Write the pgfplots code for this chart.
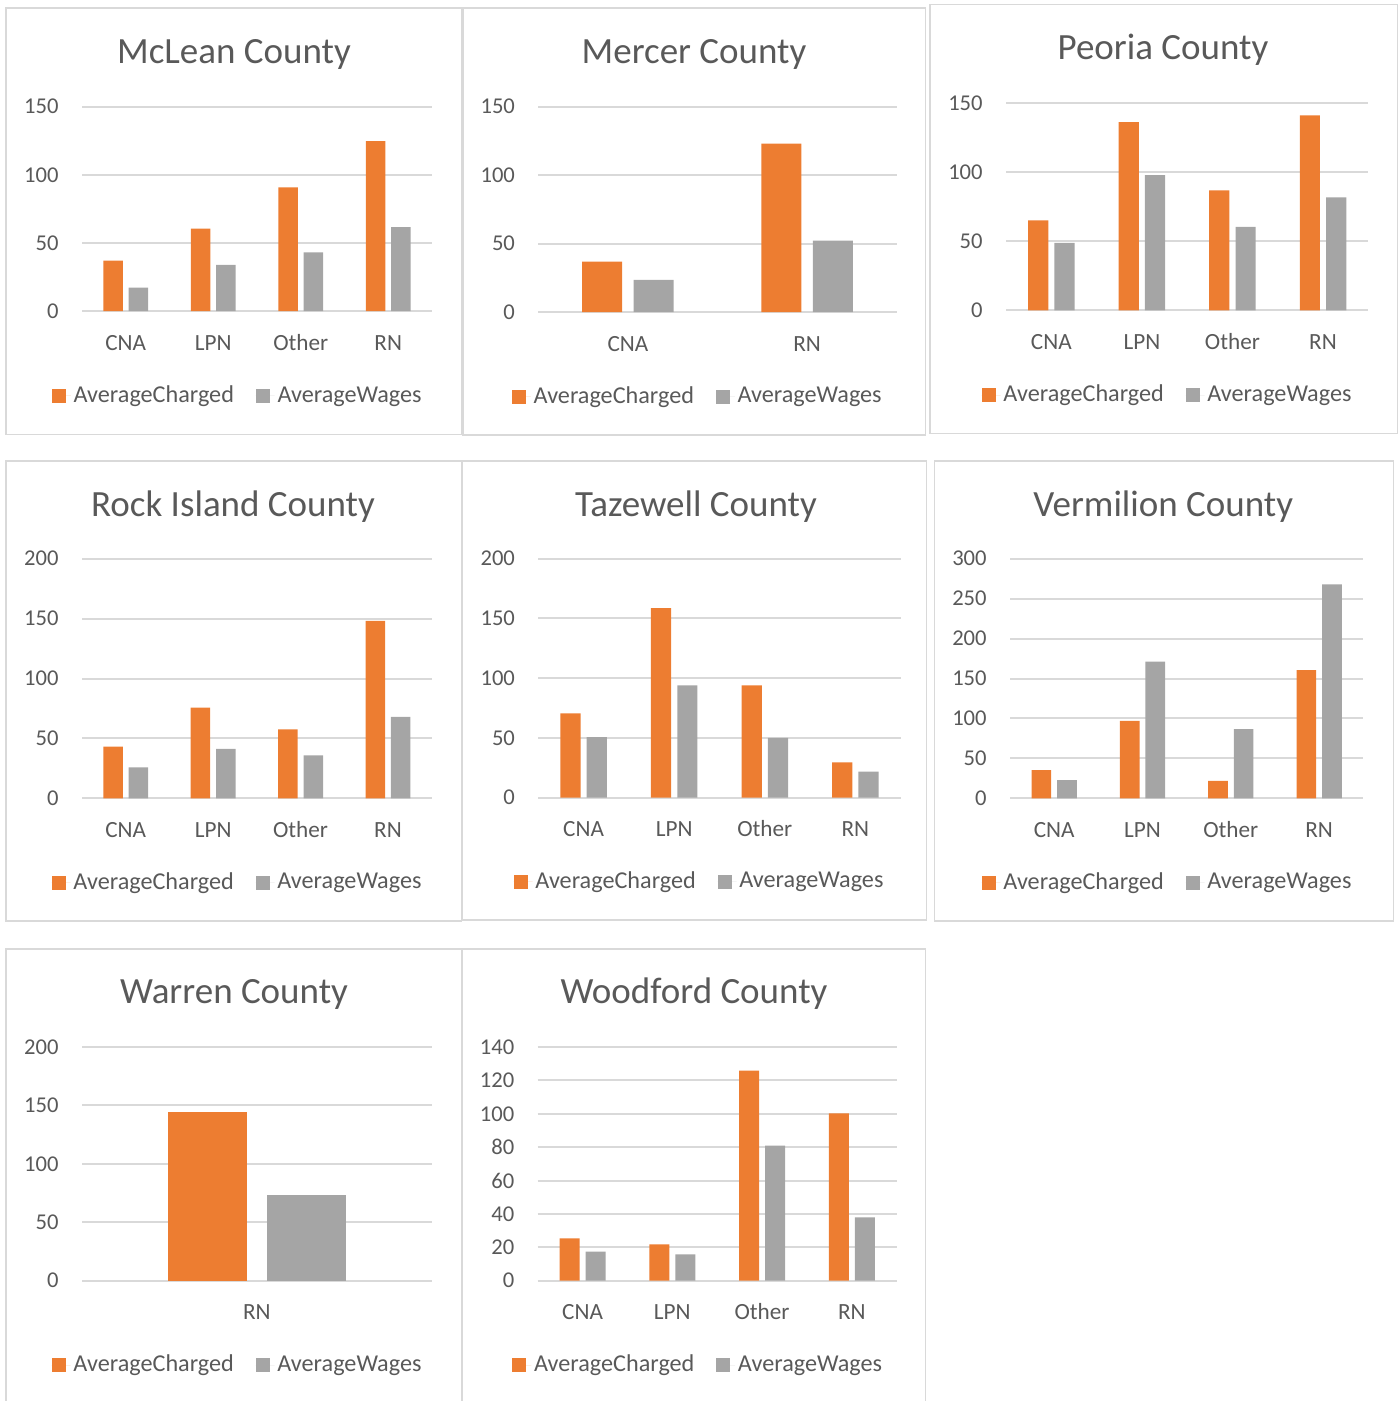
\documentclass[border=0pt]{standalone}
\usepackage{pgfplots}
\pgfplotsset{compat=1.18}
\usepackage{fontspec}
\setmainfont{Carlito}
\definecolor{orng}{HTML}{ED7D31}
\definecolor{gry}{HTML}{A5A5A5}
\definecolor{gridc}{HTML}{D9D9D9}
\definecolor{txt}{HTML}{595959}
\newcommand{\tickfont}{\fontsize{11.3}{13}\selectfont}
\newcommand{\catfont}{\fontsize{11.6}{13}\selectfont}
\newcommand{\legfont}{\fontsize{12.1}{14}\selectfont}
\newcommand{\titlefont}{\fontsize{18.5}{21}\selectfont}
\pgfplotsset{
  sq legend/.style={legend image code/.code={\fill[##1] (0pt,-3.5pt) rectangle (7pt,3.5pt); \path (0pt,0pt) -- (9.5pt,0pt);}},
  panel/.style={
    ybar, scale only axis, enlargelimits=false, ymin=0,
    anchor=south west, clip=false,
    axis line style={draw=none}, major tick length=0pt,
    ymajorgrids, grid style={draw=gridc, line width=1pt},
    tick label style={text=txt, font=\tickfont},
    yticklabel style={inner sep=0pt, xshift=-11.5pt},
    xticklabel style={anchor=base, inner sep=0pt, yshift=-19.5pt, font=\catfont},
    /pgf/number format/assume math mode=true,
    scaled y ticks=false,
    legend columns=2,
    legend style={draw=none, fill=none, anchor=center, font=\legfont, text=txt,
      nodes={inner sep=1.4pt},
      /tikz/every even column/.append style={column sep=9.5pt}},
  },
  four/.style={xmin=-0.5, xmax=3.5, xtick={0,1,2,3}, xticklabels={CNA,LPN,Other,RN}},
}
\begin{document}
\begin{tikzpicture}
\useasboundingbox (0,0) rectangle (699.5pt,-700.5pt);
% panel borders
\begin{scope}[draw=gridc, line width=0.75pt]
\draw (3pt,-4pt) rectangle (230.75pt,-217.25pt);
\draw (231.5pt,-4pt) rectangle (462.85pt,-217.5pt);
\draw (465pt,-2.35pt) rectangle (698.75pt,-216.65pt);
\draw (3pt,-230.5pt) rectangle (230.75pt,-460.5pt);
\draw (231.35pt,-230.5pt) rectangle (463.35pt,-460pt);
\draw (467.15pt,-230.5pt) rectangle (696.65pt,-460.5pt);
\draw (3pt,-474.5pt) rectangle (230.75pt,-705pt);
\draw (231.35pt,-474.5pt) rectangle (462.85pt,-705pt);
\end{scope}

% McLean
\begin{axis}[panel, four, at={(41pt,-155.5pt)}, width=175pt, height=102.15pt,
  ymax=150, ytick={0,50,100,150}, bar width=9.75pt, ybar=2.95pt,
  legend style={at={(0.446,-0.416)}}]
\addplot[fill=orng, draw=none, sq legend] coordinates {(0,37) (1,60.4) (2,90.8) (3,124.8)};
\addplot[fill=gry, draw=none, sq legend] coordinates {(0,17.1) (1,33.8) (2,43.1) (3,61.5)};
\legend{AverageCharged, AverageWages}
\end{axis}
\node[anchor=base, text=txt, font=\titlefont] at (117pt,-31.65pt) {McLean County};

% Mercer
\begin{axis}[panel, at={(269.15pt,-156pt)}, width=179.2pt, height=102.65pt,
  xmin=-0.5, xmax=1.5, xtick={0,1}, xticklabels={CNA,RN},
  ymax=150, ytick={0,50,100,150}, bar width=20pt, ybar=5.8pt,
  legend style={at={(0.446,-0.412)}}]
\addplot[fill=orng, draw=none, sq legend] coordinates {(0,36.8) (1,123)};
\addplot[fill=gry, draw=none, sq legend] coordinates {(0,23.4) (1,52.1)};
\legend{AverageCharged, AverageWages}
\end{axis}
\node[anchor=base, text=txt, font=\titlefont] at (347pt,-31.65pt) {Mercer County};

% Peoria
\begin{axis}[panel, four, at={(503pt,-155.15pt)}, width=181.15pt, height=103.65pt,
  ymax=150, ytick={0,50,100,150}, bar width=10.1pt, ybar=3.05pt,
  legend style={at={(0.447,-0.409)}}]
\addplot[fill=orng, draw=none, sq legend] coordinates {(0,65.1) (1,136.2) (2,86.8) (3,141.1)};
\addplot[fill=gry, draw=none, sq legend] coordinates {(0,48.7) (1,97.9) (2,60.3) (3,81.8)};
\legend{AverageCharged, AverageWages}
\end{axis}
\node[anchor=base, text=txt, font=\titlefont] at (581.5pt,-30pt) {Peoria County};

% Rock Island
\begin{axis}[panel, four, at={(41pt,-399.15pt)}, width=174.85pt, height=119.8pt,
  ymax=200, ytick={0,50,100,150,200}, bar width=9.75pt, ybar=2.95pt,
  legend style={at={(0.446,-0.352)}}]
\addplot[fill=orng, draw=none, sq legend] coordinates {(0,43.1) (1,75.6) (2,57.6) (3,148.2)};
\addplot[fill=gry, draw=none, sq legend] coordinates {(0,25.9) (1,41.2) (2,35.9) (3,67.9)};
\legend{AverageCharged, AverageWages}
\end{axis}
\node[anchor=base, text=txt, font=\titlefont] at (116.5pt,-258.35pt) {Rock Island County};

% Tazewell
\begin{axis}[panel, four, at={(269.15pt,-398.85pt)}, width=181.2pt, height=119.5pt,
  ymax=200, ytick={0,50,100,150,200}, bar width=10.1pt, ybar=3.05pt,
  legend style={at={(0.446,-0.351)}}]
\addplot[fill=orng, draw=none, sq legend] coordinates {(0,70.6) (1,158.7) (2,94.1) (3,29.6)};
\addplot[fill=gry, draw=none, sq legend] coordinates {(0,50.8) (1,94.1) (2,50.0) (3,21.8)};
\legend{AverageCharged, AverageWages}
\end{axis}
\node[anchor=base, text=txt, font=\titlefont] at (348pt,-258.35pt) {Tazewell County};

% Vermilion
\begin{axis}[panel, four, at={(505pt,-399.15pt)}, width=176.65pt, height=119.8pt,
  ymax=300, ytick={0,50,100,150,200,250,300}, bar width=9.85pt, ybar=2.95pt,
  legend style={at={(0.447,-0.352)}}]
\addplot[fill=orng, draw=none, sq legend] coordinates {(0,35.4) (1,96.8) (2,21.7) (3,160.6)};
\addplot[fill=gry, draw=none, sq legend] coordinates {(0,22.9) (1,171) (2,86.7) (3,267.8)};
\legend{AverageCharged, AverageWages}
\end{axis}
\node[anchor=base, text=txt, font=\titlefont] at (581.65pt,-258.35pt) {Vermilion County};

% Warren
\begin{axis}[panel, at={(41pt,-640.35pt)}, width=174.85pt, height=116.85pt,
  xmin=-0.5, xmax=0.5, xtick={0}, xticklabels={RN},
  ymax=200, ytick={0,50,100,150,200}, bar width=39.5pt, ybar=10pt,
  legend style={at={(0.446,-0.361)}}]
\addplot[fill=orng, draw=none, sq legend] coordinates {(0,144.4)};
\addplot[fill=gry, draw=none, sq legend] coordinates {(0,73.3)};
\legend{AverageCharged, AverageWages}
\end{axis}
\node[anchor=base, text=txt, font=\titlefont] at (117pt,-501.65pt) {Warren County};

% Woodford
\begin{axis}[panel, four, at={(268.85pt,-640.35pt)}, width=179.5pt, height=116.85pt,
  ymax=140, ytick={0,20,40,60,80,100,120,140}, bar width=10pt, ybar=3pt,
  legend style={at={(0.448,-0.361)}}]
\addplot[fill=orng, draw=none, sq legend] coordinates {(0,25.4) (1,21.8) (2,125.8) (3,100.3)};
\addplot[fill=gry, draw=none, sq legend] coordinates {(0,17.4) (1,15.8) (2,80.9) (3,38.0)};
\legend{AverageCharged, AverageWages}
\end{axis}
\node[anchor=base, text=txt, font=\titlefont] at (347pt,-501.65pt) {Woodford County};
\end{tikzpicture}
\end{document}
